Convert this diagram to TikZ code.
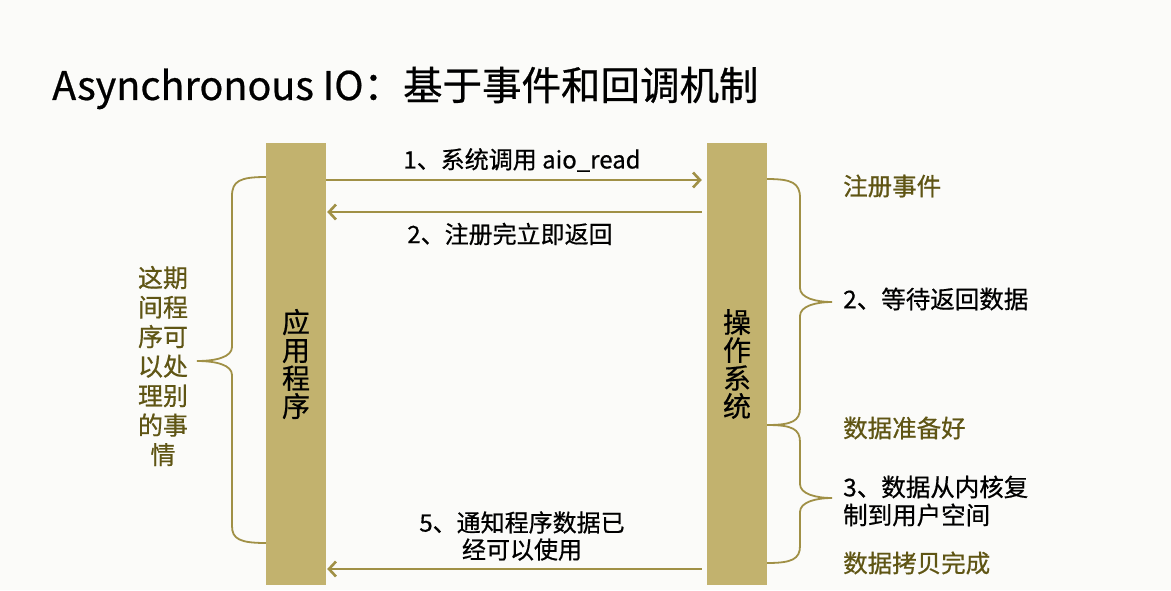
\documentclass[tikz,border=0pt]{standalone}
\usepackage{fontspec}
\setmainfont{Noto Sans CJK SC}[FakeBold=0.6]
\usetikzlibrary{arrows.meta}
\definecolor{bg}{RGB}{251,251,249}
\definecolor{barfill}{RGB}{194,178,110}
\definecolor{lineol}{RGB}{160,144,70}
\definecolor{textol}{RGB}{95,85,20}
\tikzset{
  x=1pt, y=-1pt,
  bar/.style={fill=barfill, draw=none, minimum width=60pt, minimum height=442pt, inner sep=0pt,
              align=center, font=\fontsize{28}{28}\selectfont},
  arr/.style={draw=lineol, line width=2.6pt, -{Straight Barb[length=7pt,width=15pt]}},
  brace/.style={draw=lineol, line width=1.8pt},
  lbl/.style={inner sep=0pt, align=center, font=\fontsize{24}{27}\selectfont},
  note/.style={inner sep=0pt, anchor=west, align=left, font=\fontsize{24.5}{28}\selectfont},
  olive/.style={text=textol}
}
\begin{document}
\begin{tikzpicture}
\fill[bg] (0,0) rectangle (1171,590);
\useasboundingbox (0,0) rectangle (1171,590);

% title
\node[inner sep=0pt, anchor=west, font=\fontsize{39.5}{40}\selectfont] (title) at (52,88)
  {Asynchronous IO：基于事件和回调机制};

% the two lanes
\node[bar] (app) at (296,364) {应\\用\\程\\序};
\node[bar] (os)  at (737,364) {操\\作\\系\\统};

% calls between application and kernel
\coordinate (y1) at (0,180);
\coordinate (y2) at (0,212);
\coordinate (y5) at (0,569);
\draw[arr, shorten >=5pt] (app.east |- y1) -- (os.west |- y1);
\draw[arr, shorten >=1pt, shorten <=5pt] (os.west |- y2) -- (app.east |- y2);
\draw[arr, shorten >=1pt, shorten <=5pt] (os.west |- y5) -- (app.east |- y5);
\node[lbl] (m1) at (522,160) {1、系统调用 aio\_read};
\node[lbl] (m2) at (510,234) {2、注册完立即返回};
\node[lbl] (m5) at (522,536) {5、通知程序数据已\\经可以使用};

% left brace: the program is free meanwhile
\coordinate (lb1) at (app.west |- 0,177);
\coordinate (lb2) at (app.west |- 0,543);
\coordinate (ltip) at (197,361);
\draw[brace] (lb1) .. controls (240,177) and (232,181) .. (232,196) -- (232,347)
  .. controls (232,357) and (216,361) .. (ltip)
  .. controls (216,361) and (232,365) .. (232,375) -- (232,526)
  .. controls (232,539) and (240,543) .. (lb2);
\node[lbl, olive, font=\fontsize{25}{29.5}\selectfont] (free) at (163,366)
  {这期\\间程\\序可\\以处\\理别\\的事\\情};

% right braces: waiting and copying phases
\coordinate (rb1) at (os.east |- 0,179);
\coordinate (rb2) at (os.east |- 0,425);
\coordinate (rb3) at (os.east |- 0,563);
\coordinate (rtip1) at (832,302);
\coordinate (rtip2) at (832,498);
\draw[brace] (rb1) .. controls (792,179) and (800,183) .. (800,198) -- (800,288)
  .. controls (800,298) and (816,302) .. (rtip1)
  .. controls (816,302) and (800,306) .. (800,316) -- (800,408)
  .. controls (800,421) and (792,425) .. (rb2);
\draw[brace] (rb2) .. controls (792,425) and (800,429) .. (800,442) -- (800,484)
  .. controls (800,494) and (816,498) .. (rtip2)
  .. controls (816,498) and (800,502) .. (800,512) -- (800,546)
  .. controls (800,559) and (792,563) .. (rb3);

\node[note, olive] (ev)   at (843,186) {注册事件};
\node[note]        (wait) at (843,299) {2、等待返回数据};
\node[note, olive] (rdy)  at (843,428) {数据准备好};
\node[note]        (copy) at (843,501) {3、数据从内核复\\制到用户空间};
\node[note, olive] (done) at (843,563) {数据拷贝完成};
\end{tikzpicture}
\end{document}
